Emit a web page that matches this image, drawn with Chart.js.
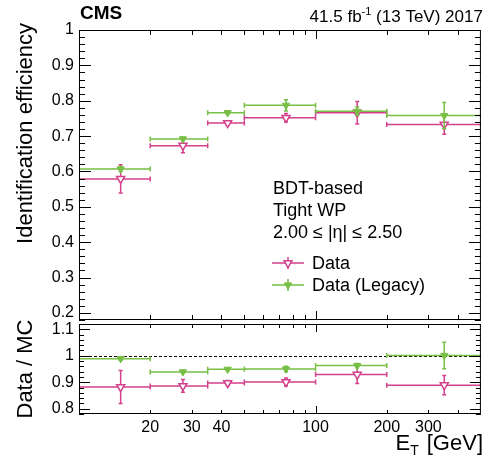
<!DOCTYPE html>
<html>
<head>
<meta charset="utf-8">
<script src="https://cdn.jsdelivr.net/npm/chart.js@4.4.1/dist/chart.umd.min.js"></script>
<style>
  html, body { margin: 0; padding: 0; background: #fff; }
  #wrap { position: relative; width: 487px; height: 456px; }
  #wrap canvas { position: absolute; left: 0; top: 0; }
</style>
</head>
<body>
<div id="wrap">
  <canvas id="effCanvas" width="487" height="456"></canvas>
  <canvas id="ratioCanvas" width="487" height="456"></canvas>
</div>
<script>
// E_T bins (GeV)
const binLow = [10, 20, 35, 50, 100, 200];
const binHigh = [20, 35, 50, 100, 200, 500];
const binCenter = [15, 27.5, 42.5, 75, 150, 350];

// identification efficiency
const effData = [0.579, 0.673, 0.737, 0.752, 0.766, 0.733];
const effDataErr = [0.040, 0.020, 0.006, 0.012, 0.032, 0.028];
const effLegacy = [0.607, 0.692, 0.766, 0.787, 0.770, 0.758];
const effLegacyErr = [0.007, 0.005, 0.004, 0.016, 0.012, 0.037];

// data / MC
const ratioData = [0.882, 0.886, 0.897, 0.901, 0.929, 0.889];
const ratioDataErr = [0.062, 0.024, 0.010, 0.015, 0.034, 0.036];
const ratioLegacy = [0.989, 0.939, 0.949, 0.950, 0.963, 1.001];
const ratioLegacyErr = [0.006, 0.005, 0.005, 0.010, 0.008, 0.050];

// axis ticks
const effTicks = [0.2, 0.3, 0.4, 0.5, 0.6, 0.7, 0.8, 0.9, 1.0];
const ratioTicks = [0.8, 0.9, 1.0, 1.1];
const xLabelTicks = [20, 30, 40, 100, 200, 300];
const xMarkTicks = [20, 30, 40, 50, 60, 70, 80, 90, 100, 200, 300, 400];

const PINK = '#d3408b';
const GREEN = '#77bf45';
const FONT = '"Liberation Sans", Arial, Helvetica, sans-serif';

function points(vals) {
    return binCenter.map((x, i) => ({ x: x, y: vals[i] }));
}

function makeDatasets(dataVals, dataErr, legacyVals, legacyErr) {
    return [
        {
            label: 'Data',
            data: points(dataVals),
            yErr: dataErr,
            borderColor: PINK,
            backgroundColor: '#fff',
            pointStyle: 'triangle',
            rotation: 180,
            pointRadius: 4.6,
            pointBorderWidth: 1.5,
            showLine: false,
            order: 1
        },
        {
            label: 'Data (Legacy)',
            data: points(legacyVals),
            yErr: legacyErr,
            borderColor: GREEN,
            backgroundColor: GREEN,
            pointStyle: 'triangle',
            rotation: 180,
            pointRadius: 4.2,
            pointBorderWidth: 1,
            showLine: false,
            order: 0
        }
    ];
}

const errorBars = {
    id: 'errorBars',
    beforeDatasetDraw(chart, args) {
        const ds = chart.data.datasets[args.index];
        const xs = chart.scales.x, ys = chart.scales.y;
        const a = chart.chartArea;
        const ctx = chart.ctx;
        ctx.save();
        ctx.beginPath();
        ctx.rect(a.left, a.top, a.width, a.height);
        ctx.clip();
        ctx.strokeStyle = ds.borderColor;
        ctx.lineWidth = 1.5;
        ctx.beginPath();
        ds.data.forEach((pt, i) => {
            const x0 = xs.getPixelForValue(binLow[i]);
            const x1 = xs.getPixelForValue(binHigh[i]);
            const xc = xs.getPixelForValue(pt.x);
            const y = ys.getPixelForValue(pt.y);
            const yHi = ys.getPixelForValue(pt.y + ds.yErr[i]);
            const yLo = ys.getPixelForValue(pt.y - ds.yErr[i]);
            ctx.moveTo(x0, y); ctx.lineTo(x1, y);
            ctx.moveTo(x0, y - 2.5); ctx.lineTo(x0, y + 2.5);
            ctx.moveTo(x1, y - 2.5); ctx.lineTo(x1, y + 2.5);
            ctx.moveTo(xc, yHi); ctx.lineTo(xc, yLo);
            ctx.moveTo(xc - 2, yHi); ctx.lineTo(xc + 2, yHi);
            ctx.moveTo(xc - 2, yLo); ctx.lineTo(xc + 2, yLo);
        });
        ctx.stroke();
        ctx.restore();
    }
};

// ROOT style frame with inward ticks
const frame = {
    id: 'frame',
    afterDraw(chart, args, opts) {
        const ctx = chart.ctx;
        const a = chart.chartArea;
        const xs = chart.scales.x, ys = chart.scales.y;
        ctx.save();
        ctx.strokeStyle = '#000';
        ctx.lineWidth = 1;
        ctx.strokeRect(a.left + 0.5, a.top + 0.5, a.width - 1, a.height - 1);
        ctx.beginPath();
        const k0 = Math.ceil(ys.min / 0.02 - 1e-6);
        for (let k = k0; k * 0.02 <= ys.max + 1e-9; k++) {
            const py = Math.round(ys.getPixelForValue(k * 0.02)) + 0.5;
            const len = k % 5 === 0 ? opts.yMajor : opts.yMinor;
            ctx.moveTo(a.left, py); ctx.lineTo(a.left + len, py);
            ctx.moveTo(a.right, py); ctx.lineTo(a.right - len, py);
        }
        xMarkTicks.forEach(v => {
            const px = Math.round(xs.getPixelForValue(v)) + 0.5;
            const len = v === 100 ? opts.xMajor : opts.xMinor;
            ctx.moveTo(px, a.top); ctx.lineTo(px, a.top + len);
            ctx.moveTo(px, a.bottom); ctx.lineTo(px, a.bottom - len);
        });
        ctx.stroke();
        ctx.restore();
    }
};

function yAxis(min, max, tickVals) {
    return {
        type: 'linear',
        min: min,
        max: max,
        afterFit: s => { s.width = 79; },
        afterBuildTicks: s => { s.ticks = tickVals.map(v => ({ value: v })); },
        grid: { display: false, drawTicks: false },
        border: { display: false },
        ticks: {
            padding: 5,
            color: '#000',
            font: { family: FONT, size: 16 },
            callback: v => String(+v.toFixed(2))
        }
    };
}

const topTexts = {
    id: 'topTexts',
    afterDraw(chart) {
        const ctx = chart.ctx;
        const a = chart.chartArea;
        ctx.save();
        ctx.fillStyle = '#000';
        ctx.textBaseline = 'alphabetic';

        ctx.font = 'bold 19px ' + FONT;
        ctx.textAlign = 'left';
        ctx.fillText('CMS', a.left + 1, 19);

        // 41.5 fb^-1 (13 TeV) 2017, right aligned
        ctx.font = '17px ' + FONT;
        const tail = ' (13 TeV) 2017';
        const head = '41.5 fb';
        const wTail = ctx.measureText(tail).width;
        const wHead = ctx.measureText(head).width;
        ctx.font = '11px ' + FONT;
        const sup = '-1';
        const wSup = ctx.measureText(sup).width;
        let x = a.right + 2 - wTail - wSup - wHead;
        ctx.font = '17px ' + FONT;
        ctx.fillText(head, x, 22);
        x += wHead;
        ctx.font = '11px ' + FONT;
        ctx.fillText(sup, x, 15);
        x += wSup;
        ctx.font = '17px ' + FONT;
        ctx.fillText(tail, x, 22);

        // y title
        ctx.save();
        ctx.translate(32, 23);
        ctx.rotate(-Math.PI / 2);
        ctx.font = '22px ' + FONT;
        ctx.textAlign = 'right';
        ctx.fillText('Identification efficiency', 0, 0);
        ctx.restore();

        // text block
        ctx.font = '18px ' + FONT;
        ctx.textAlign = 'left';
        ctx.fillText('BDT-based', 273, 194);
        ctx.fillText('Tight WP', 273, 216);
        ctx.fillText('2.00 \u2264 |\u03b7| \u2264 2.50', 273, 238);

        // legend
        const rows = [[0, 263], [1, 285]];
        rows.forEach(([idx, y]) => {
            const ds = chart.data.datasets[idx];
            ctx.strokeStyle = ds.borderColor;
            ctx.lineWidth = 1.5;
            ctx.beginPath();
            ctx.moveTo(272, y); ctx.lineTo(304, y);
            ctx.moveTo(288, y - 6); ctx.lineTo(288, y + 6);
            ctx.stroke();
            ctx.fillStyle = ds.backgroundColor;
            ctx.lineWidth = ds.pointBorderWidth;
            Chart.helpers.drawPoint(ctx, {
                pointStyle: ds.pointStyle,
                rotation: ds.rotation,
                radius: ds.pointRadius,
                borderWidth: ds.pointBorderWidth
            }, 288, y);
            ctx.fillStyle = '#000';
            ctx.fillText(ds.label, 312, y + 6);
        });
        ctx.restore();
    }
};

const bottomTexts = {
    id: 'bottomTexts',
    beforeDatasetsDraw(chart) {
        const ctx = chart.ctx;
        const a = chart.chartArea;
        const py = Math.round(chart.scales.y.getPixelForValue(1)) + 0.5;
        ctx.save();
        ctx.strokeStyle = '#000';
        ctx.lineWidth = 1;
        ctx.setLineDash([3, 2]);
        ctx.beginPath();
        ctx.moveTo(a.left, py); ctx.lineTo(a.right, py);
        ctx.stroke();
        ctx.restore();
    },
    afterDraw(chart) {
        const ctx = chart.ctx;
        const a = chart.chartArea;
        ctx.save();
        ctx.fillStyle = '#000';
        ctx.textBaseline = 'alphabetic';

        ctx.save();
        ctx.translate(32, (a.top + a.bottom) / 2);
        ctx.rotate(-Math.PI / 2);
        ctx.font = '22px ' + FONT;
        ctx.textAlign = 'center';
        ctx.fillText('Data / MC', 0, 0);
        ctx.restore();

        // E_T  [GeV]
        ctx.font = '22px ' + FONT;
        ctx.textAlign = 'right';
        ctx.fillText('[GeV]', 483, 450);
        let x = 483 - ctx.measureText('[GeV]').width - 8;
        ctx.font = '14px ' + FONT;
        ctx.fillText('T', x, 455);
        x -= ctx.measureText('T').width;
        ctx.font = '22px ' + FONT;
        ctx.fillText('E', x, 450);
        ctx.restore();
    }
};

const xMin = 10, xMax = 500;

new Chart(document.getElementById('effCanvas'), {
    type: 'scatter',
    data: { datasets: makeDatasets(effData, effDataErr, effLegacy, effLegacyErr) },
    options: {
        responsive: false,
        animation: false,
        layout: { padding: { left: 0, top: 30, right: 4, bottom: 136 } },
        scales: {
            x: { type: 'logarithmic', min: xMin, max: xMax, display: false },
            y: yAxis(0.18, 1.0, effTicks)
        },
        plugins: {
            legend: { display: false },
            tooltip: { enabled: false },
            frame: { yMajor: 12, yMinor: 6, xMajor: 9, xMinor: 5 }
        }
    },
    plugins: [errorBars, frame, topTexts]
});

new Chart(document.getElementById('ratioCanvas'), {
    type: 'scatter',
    data: { datasets: makeDatasets(ratioData, ratioDataErr, ratioLegacy, ratioLegacyErr) },
    options: {
        responsive: false,
        animation: false,
        layout: { padding: { left: 0, top: 324, right: 4, bottom: 0 } },
        scales: {
            x: {
                type: 'logarithmic',
                min: xMin,
                max: xMax,
                afterFit: s => { s.height = 42; },
                afterBuildTicks: s => { s.ticks = xLabelTicks.map(v => ({ value: v })); },
                grid: { display: false, drawTicks: false },
                border: { display: false },
                ticks: {
                    padding: 4,
                    autoSkip: false,
                    maxRotation: 0,
                    color: '#000',
                    font: { family: FONT, size: 16 },
                    callback: v => String(v)
                }
            },
            y: yAxis(0.78, 1.12, ratioTicks)
        },
        plugins: {
            legend: { display: false },
            tooltip: { enabled: false },
            frame: { yMajor: 11, yMinor: 5, xMajor: 8, xMinor: 4 }
        }
    },
    plugins: [errorBars, frame, bottomTexts]
});
</script>
</body>
</html>
